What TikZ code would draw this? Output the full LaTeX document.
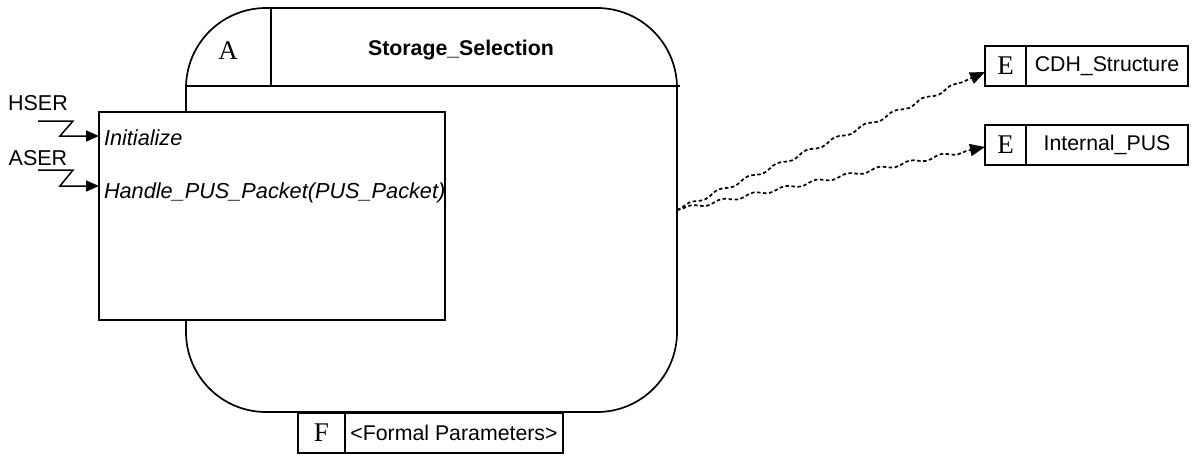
\documentclass[tikz,border=0pt]{standalone}
\usepackage{fontspec}
\setmainfont{Liberation Sans}
\newfontfamily\letterfont{Liberation Serif}
\usetikzlibrary{arrows.meta,decorations.pathmorphing}

\begin{document}
\begin{tikzpicture}[x=1pt,y=-1pt,
  line width=1.7pt,
  every node/.style={inner sep=0pt, outer sep=0pt},
  lbl/.style={font=\fontsize{21.5}{24}\selectfont},
  oplbl/.style={font=\fontsize{21.7}{24}\selectfont\itshape, anchor=base west},
  lettercell/.style={draw, fill=white, minimum height=40pt, font=\letterfont\fontsize{27}{29}\selectfont},
  namecell/.style={draw, fill=white, minimum height=40pt, font=\fontsize{21.3}{24}\selectfont},
  sig/.style={-{Triangle[length=13pt,width=11pt]}, line width=1.5pt},
  dep/.style={-{Triangle[length=15pt,width=12pt]}, line width=1.7pt,
    dash pattern=on 3.5pt off 2.5pt,
    decorate, decoration={snake, amplitude=1.8pt, segment length=32pt, pre length=4pt, post length=15pt}}
]
\useasboundingbox (0,0) rectangle (1194,456);

% process body with its header band
\node[draw, rounded corners=80pt, minimum width=491pt, minimum height=404pt] (main) at (431.5,210) {};
\coordinate (hdl) at (186,86);
\coordinate (hdr) at (680,86);
\coordinate (divt) at (271,8);
\coordinate (divb) at (271,86);
\draw (hdl) -- (hdr);
\draw (divt) -- (divb);
\node[font=\letterfont\fontsize{27}{29}\selectfont] (kind) at (228,51) {A};
\node[font=\fontsize{21.3}{24}\selectfont\bfseries] (title) at (461,50) {Storage\_Selection};

% provided operations
\node[draw, fill=white, minimum width=346pt, minimum height=208pt] (ops) at (272,216) {};
\node[oplbl] (op1) at (104,145) {Initialize};
\node[oplbl] (op2) at (104,198) {Handle\_PUS\_Packet(PUS\_Packet)};

% incoming signals
\node[lbl] (hser) at (38,103) {HSER};
\node[lbl] (aser) at (38,158) {ASER};
\coordinate (h1) at (38,121);
\coordinate (h2) at (73,121);
\coordinate (h3) at (60,136);
\coordinate (h4) at (99,136);
\coordinate (a1) at (38,170);
\coordinate (a2) at (73,170);
\coordinate (a3) at (60,186);
\coordinate (a4) at (99,186);
\draw[sig] (h1) -- (h2) -- (h3) -- (h4);
\draw[sig] (a1) -- (a2) -- (a3) -- (a4);

% required entities
\node[lettercell, minimum width=41pt] (e1) at (1005.5,66) {E};
\node[namecell, minimum width=162pt, anchor=west] (e1n) at (e1.east) {CDH\_Structure};
\node[lettercell, minimum width=41pt] (e2) at (1005.5,145) {E};
\node[namecell, minimum width=162pt, anchor=west] (e2n) at (e2.east) {Internal\_PUS};

% formal parameters
\node[lettercell, minimum width=47pt] (f) at (321.5,433) {F};
\node[namecell, minimum width=218pt, anchor=west] (fn) at (f.east) {<Formal Parameters>};

% dependencies
\draw[dep] (main.east) -- ([yshift=-6pt]e1.west);
\draw[dep] (main.east) -- ([yshift=-2pt]e2.west);
\end{tikzpicture}
\end{document}
